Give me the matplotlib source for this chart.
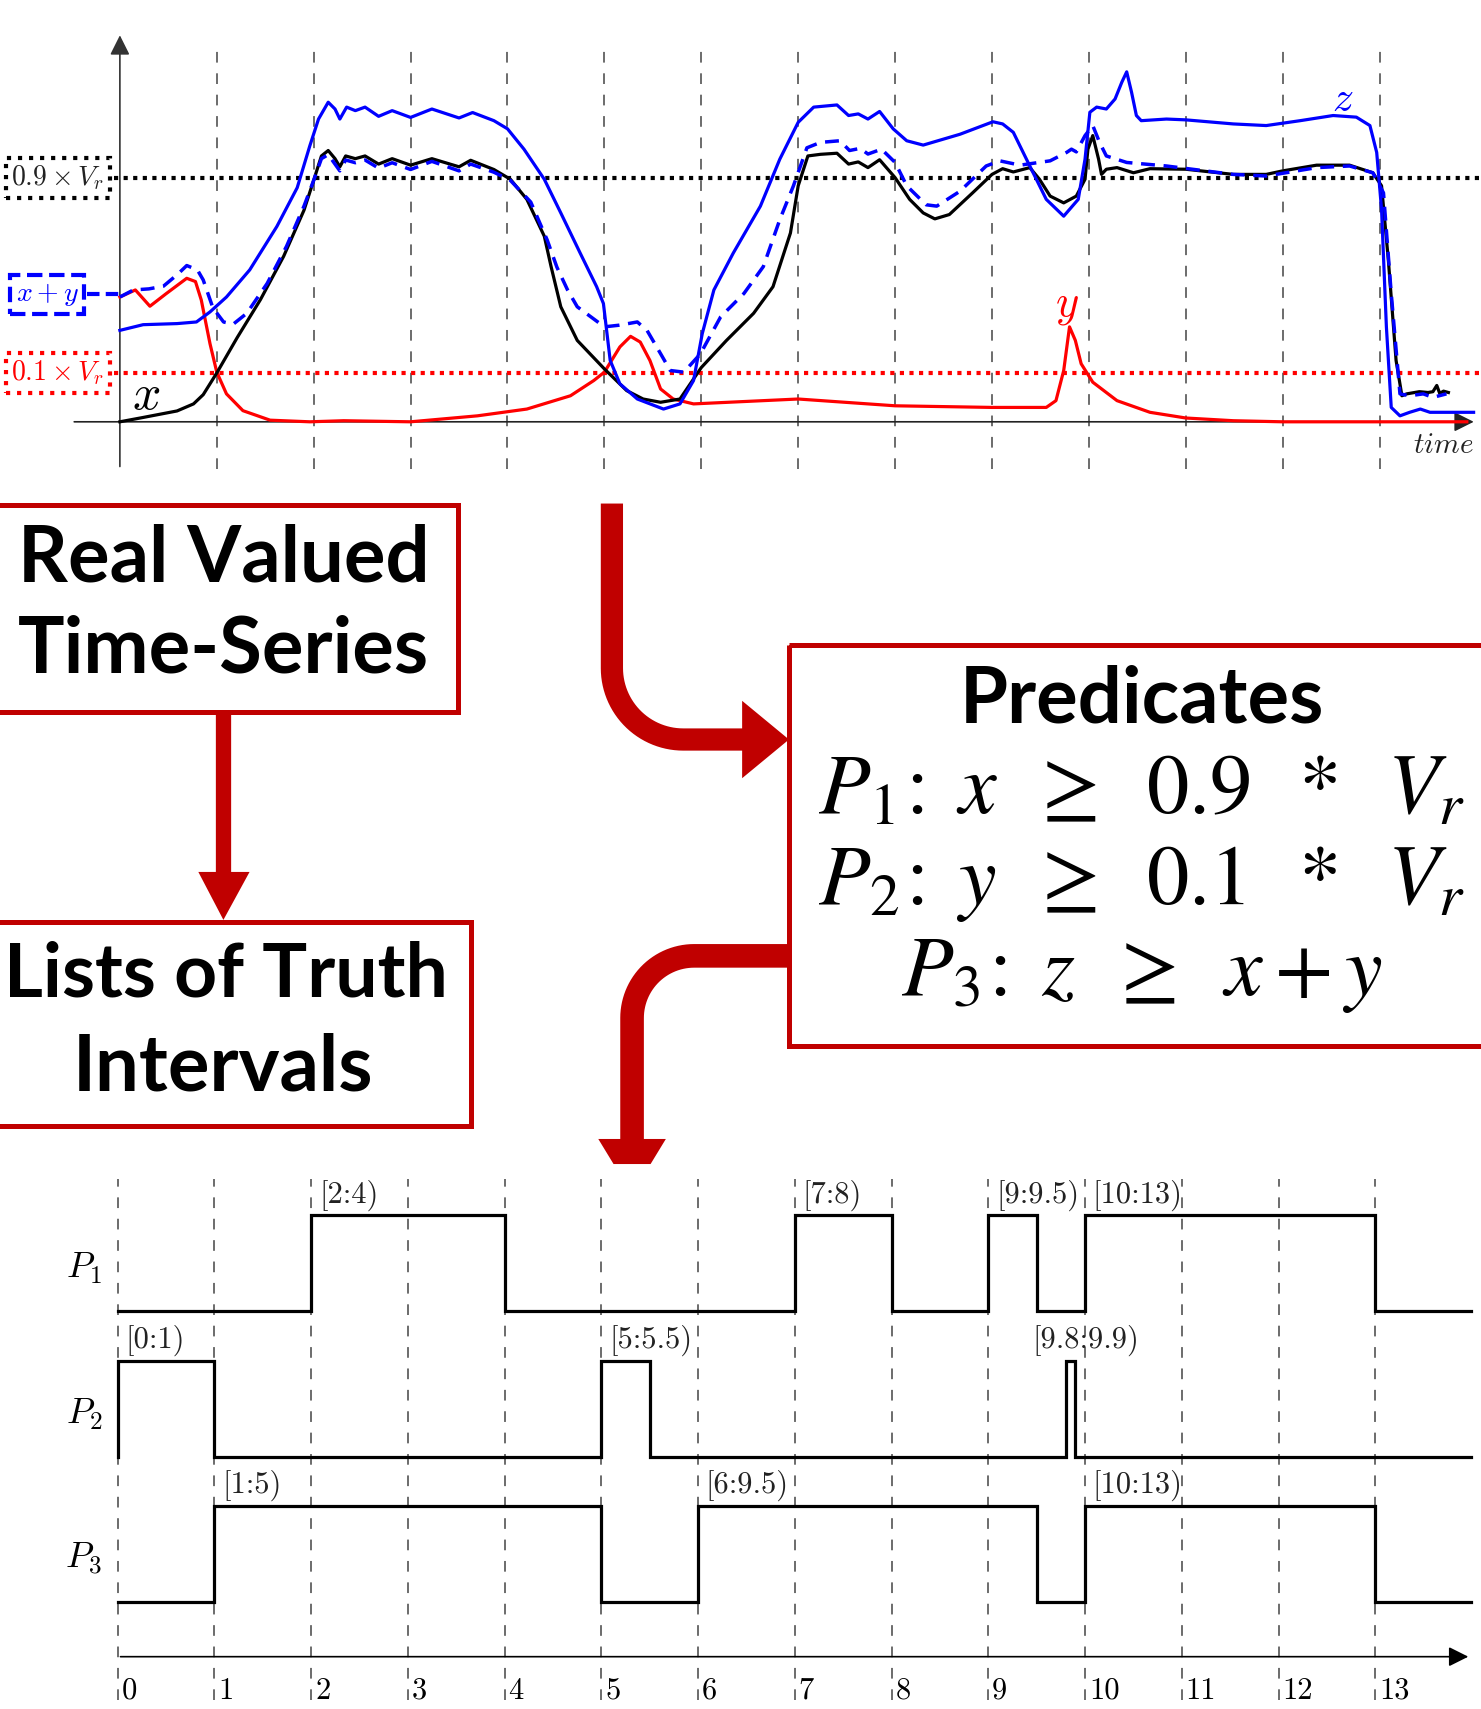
import numpy as np
import matplotlib.pyplot as plt
from matplotlib.patches import Rectangle, Polygon, PathPatch
from matplotlib.path import Path

plt.rcParams['mathtext.fontset'] = 'cm'

# ---- signals (time, value in units of V_r) ----
x_t = [0, 0.24, 0.59, 0.76, 0.86, 1.0, 1.21, 1.45, 1.69, 1.9,
       2.0, 2.08, 2.15, 2.22, 2.27, 2.33, 2.43, 2.53, 2.67, 2.81,
       3.0, 3.22, 3.5, 3.62, 3.86, 4.03, 4.2, 4.38, 4.45, 4.55,
       4.72, 5.0, 5.23, 5.4, 5.58, 5.78, 6.0, 6.26, 6.54, 6.74,
       6.92, 7.0, 7.1, 7.23, 7.4, 7.52, 7.62, 7.72, 7.84, 8.0,
       8.15, 8.29, 8.41, 8.56, 8.8, 9.0, 9.11, 9.22, 9.39, 9.49,
       9.6, 9.74, 9.87, 9.96, 9.99, 10.04, 10.1, 10.13, 10.18, 10.29,
       10.46, 10.63, 11.0, 11.49, 11.83, 12.0, 12.35, 12.69, 12.93, 13.02,
       13.09, 13.17, 13.23, 13.28, 13.41, 13.5, 13.55, 13.59, 13.62, 13.66,
       13.71]
x_v = [0, 0.016, 0.04, 0.066, 0.10, 0.18, 0.31, 0.45, 0.61, 0.78,
       0.89, 0.98, 1.0, 0.97, 0.94, 0.98, 0.97, 0.98, 0.95, 0.97,
       0.946, 0.97, 0.94, 0.964, 0.93, 0.894, 0.82, 0.684, 0.572, 0.424,
       0.30, 0.195, 0.115, 0.084, 0.072, 0.084, 0.2, 0.30, 0.40, 0.498,
       0.696, 0.87, 0.98, 0.986, 0.99, 0.95, 0.958, 0.937, 0.966, 0.9,
       0.82, 0.77, 0.748, 0.764, 0.844, 0.912, 0.933, 0.921, 0.937, 0.894,
       0.832, 0.807, 0.832, 0.894, 1.005, 1.055, 0.968, 0.912, 0.931, 0.937,
       0.918, 0.933, 0.931, 0.912, 0.912, 0.925, 0.946, 0.946, 0.918, 0.87,
       0.597, 0.226, 0.096, 0.103, 0.111, 0.108, 0.111, 0.134, 0.105, 0.113,
       0.108]

y_t = [0, 0.16, 0.31, 0.48, 0.69, 0.78, 0.84, 0.93, 1.0, 1.1,
       1.27, 1.55, 1.96, 2.31, 3.0, 3.69, 4.2, 4.65, 4.89, 5.0,
       5.16, 5.27, 5.37, 5.47, 5.58, 5.71, 5.92, 7.0, 8.0, 9.0,
       9.56, 9.66, 9.74, 9.8, 9.86, 9.92, 10.04, 10.29, 10.63, 11.0,
       11.49, 12.0, 13.9]
y_v = [0.46, 0.486, 0.426, 0.473, 0.529, 0.517, 0.449, 0.288, 0.183, 0.103,
       0.041, 0.006, 0, 0.004, 0, 0.022, 0.047, 0.096, 0.152, 0.183,
       0.276, 0.315, 0.294, 0.226, 0.121, 0.084, 0.066, 0.084, 0.059, 0.053,
       0.053, 0.078, 0.189, 0.35, 0.3, 0.214, 0.146, 0.078, 0.035, 0.014,
       0.004, 0, 0]

xy_t = [0, 0.14, 0.3, 0.45, 0.6, 0.69, 0.8, 0.86, 0.96, 1.07,
        1.17, 1.31, 1.52, 1.72, 1.9, 2.0, 2.08, 2.15, 2.22, 2.27,
        2.33, 2.43, 2.53, 2.67, 2.81, 3.0, 3.22, 3.5, 3.62, 3.86,
        4.03, 4.24, 4.41, 4.51, 4.62, 4.72, 5.0, 5.15, 5.34, 5.44,
        5.58, 5.68, 5.82, 5.99, 6.2, 6.44, 6.64, 6.81, 6.95, 7.09,
        7.23, 7.43, 7.53, 7.64, 7.72, 7.86, 8.0, 8.12, 8.32, 8.43,
        8.67, 8.94, 9.08, 9.29, 9.6, 9.77, 9.82, 9.87, 9.96, 10.04,
        10.11, 10.18, 10.39, 10.8, 11.49, 11.83, 12.35, 12.69, 12.93, 13.04,
        13.12, 13.21, 13.31, 13.45, 13.55, 13.69]
xy_v = [0.46, 0.486, 0.49, 0.5, 0.545, 0.576, 0.56, 0.523, 0.42, 0.368,
        0.36, 0.40, 0.51, 0.647, 0.795, 0.89, 0.97, 0.985, 0.95, 0.925,
        0.965, 0.955, 0.965, 0.935, 0.955, 0.93, 0.96, 0.925, 0.95, 0.92,
        0.89, 0.81, 0.67, 0.57, 0.486, 0.424, 0.35, 0.356, 0.368, 0.337,
        0.251, 0.189, 0.183, 0.25, 0.387, 0.473, 0.572, 0.745, 0.869, 1.01,
        1.03, 1.036, 1.0, 1.008, 0.987, 1.005, 0.956, 0.87, 0.80, 0.795,
        0.85, 0.943, 0.962, 0.946, 0.962, 0.993, 1.005, 0.995, 1.055, 1.092,
        1.03, 0.98, 0.956, 0.943, 0.912, 0.906, 0.937, 0.943, 0.918, 0.844,
        0.473, 0.103, 0.096, 0.103, 0.09, 0.103]

z_t = [0, 0.24, 0.59, 0.79, 0.93, 1.1, 1.34, 1.62, 1.83, 1.96,
       2.05, 2.15, 2.22, 2.27, 2.34, 2.43, 2.53, 2.67, 2.81, 3.0,
       3.22, 3.5, 3.64, 3.86, 4.0, 4.17, 4.38, 4.55, 4.75, 4.92,
       4.99, 5.06, 5.16, 5.34, 5.61, 5.78, 5.92, 6.01, 6.13, 6.33,
       6.61, 6.81, 7.0, 7.16, 7.4, 7.52, 7.62, 7.72, 7.84, 7.98,
       8.12, 8.29, 8.67, 9.01, 9.11, 9.22, 9.39, 9.56, 9.74, 9.89,
       9.96, 10.01, 10.08, 10.18, 10.27, 10.34, 10.39, 10.44, 10.49, 10.54,
       10.8, 11.0, 11.49, 11.83, 12.18, 12.52, 12.76, 12.9, 12.97, 13.02,
       13.07, 13.12, 13.21, 13.31, 13.42, 13.52, 13.69, 13.97]
z_v = [0.337, 0.358, 0.362, 0.368, 0.405, 0.46, 0.56, 0.72, 0.863, 1.017,
       1.116, 1.178, 1.153, 1.116, 1.16, 1.147, 1.16, 1.126, 1.147, 1.122,
       1.153, 1.12, 1.14, 1.11, 1.08, 1.005, 0.894, 0.77, 0.622, 0.498,
       0.436, 0.226, 0.14, 0.084, 0.047, 0.066, 0.152, 0.325, 0.486, 0.622,
       0.795, 0.968, 1.104, 1.16, 1.168, 1.129, 1.135, 1.116, 1.144, 1.08,
       1.036, 1.02, 1.06, 1.106, 1.098, 1.067, 0.943, 0.82, 0.758, 0.82,
       0.968, 1.141, 1.16, 1.153, 1.19, 1.252, 1.29, 1.215, 1.129, 1.11,
       1.116, 1.113, 1.098, 1.092, 1.11, 1.129, 1.123, 1.092, 0.993, 0.783,
       0.35, 0.053, 0.022, 0.035, 0.047, 0.035, 0.035, 0.035]

thr_hi = 0.9     # 0.9 x V_r line
thr_lo = 0.181   # 0.1 x V_r line (as drawn)
xy_start = 0.47

# ---- truth intervals ----
predicates = ['P_1', 'P_2', 'P_3']
p1_iv = [(2, 4), (7, 8), (9, 9.5), (10, 13)]
p2_iv = [(0, 1), (5, 5.5), (9.8, 9.9)]
p3_iv = [(1, 5), (6, 9.5), (10, 13)]
p1_lab = ['[2:4)', '[7:8)', '[9:9.5)', '[10:13)']
p2_lab = ['[0:1)', '[5:5.5)', '[9.8:9.9)']
p3_lab = ['[1:5)', '[6:9.5)', '[10:13)']
ticks = list(range(14))

W, H = 1359, 1568
RED = '#C00000'
fig = plt.figure(figsize=(14.81, 17.09), dpi=100)


def px_axes(y_top, y_bot, x0, xs, y0, ys):
    ax = fig.add_axes([0, 1 - y_bot / H, 1, (y_bot - y_top) / H])
    ax.set_xlim(-x0 / xs, (W - x0) / xs)
    ax.set_ylim((y0 - y_bot) / ys, (y0 - y_top) / ys)
    ax.axis('off')
    return ax


# ================= top: real valued signals =================
ax = px_axes(0, 445, 110, 88.92, 387, 248.9)
for k in range(1, 14):
    ax.plot([k, k], [-0.175, 1.39], color='#444444', lw=1.1, ls=(0, (7, 7)), zorder=1)
ax.annotate('', xy=(0, 1.435), xytext=(0, -0.175),
            arrowprops=dict(arrowstyle='-|>', color='#333333', lw=1.2, mutation_scale=30))
ax.annotate('', xy=(14.0, 0), xytext=(-0.5, 0),
            arrowprops=dict(arrowstyle='-|>', color='#222222', lw=1.2, mutation_scale=30))

ax.plot([-0.06, 14.2], [thr_hi, thr_hi], color='black', lw=3, ls=(0, (1, 1.3)), zorder=2)
ax.plot([-0.06, 14.2], [thr_lo, thr_lo], color='red', lw=3, ls=(0, (1, 1.3)), zorder=2)
ax.plot([-0.34, 0], [xy_start, xy_start], color='blue', lw=3, ls=(0, (3, 1.5)), zorder=2)

ax.plot(y_t, y_v, color='red', lw=2.3, zorder=3, solid_joinstyle='round')
ax.plot(x_t, x_v, color='black', lw=2.3, zorder=4, solid_joinstyle='round')
ax.plot(xy_t, xy_v, color='blue', lw=2.5, ls=(0, (4, 2.5)), zorder=5)
ax.plot(z_t, z_v, color='blue', lw=2.3, zorder=6, solid_joinstyle='round')

ax.text(-0.64, thr_hi, r'$0.9\times V_r$', fontsize=20, ha='center', va='center', color='#222222',
        bbox=dict(boxstyle='square,pad=0.2', fc='white', ec='black', ls=':', lw=3))
ax.text(-0.64, thr_lo, r'$0.1\times V_r$', fontsize=20, ha='center', va='center', color='red',
        bbox=dict(boxstyle='square,pad=0.2', fc='white', ec='red', ls=':', lw=3))
ax.text(-0.75, xy_start, r'$x+y$', fontsize=20, ha='center', va='center', color='blue',
        bbox=dict(boxstyle='square,pad=0.2', fc='white', ec='blue', ls='--', lw=3))
ax.text(0.27, 0.1, r'$x$', fontsize=36, ha='center', va='center', color='black')
ax.text(9.77, 0.43, r'$y$', fontsize=32, ha='center', va='center', color='red')
ax.text(12.62, 1.19, r'$z$', fontsize=30, ha='center', va='center', color='blue')
ax.text(13.66, -0.085, r'$time$', fontsize=21, ha='center', va='center', color='#222222')

# ================= middle: flow diagram =================
am = fig.add_axes([0, 0, 1, 1], zorder=-1)
am.set_xlim(0, W)
am.set_ylim(H, 0)
am.axis('off')

bw = 3.6
am.add_patch(Rectangle((-10, 463), 430, 190, fill=False, ec=RED, lw=bw))
am.add_patch(Rectangle((-10, 846), 442, 187, fill=False, ec=RED, lw=bw))
am.add_patch(Rectangle((724, 592), 660, 368, fill=False, ec=RED, lw=bw))

tkw = dict(fontfamily='Lato', fontweight='bold', fontsize=56, ha='center', va='center')
am.text(205, 513, 'Real Valued', **tkw)
am.text(205, 597, 'Time-Series', **tkw)
am.text(207, 895, 'Lists of Truth', **dict(tkw, fontsize=54))
am.text(205, 980, 'Intervals', **tkw)
am.text(1048, 643, 'Predicates', **tkw)

mkw = dict(fontsize=61, ha='center', va='center', math_fontfamily='stix')
am.text(1048, 724, r'$P_1\!:\;x\;\;\geq\;\;0.9\;\;*\;\;V_r$', **mkw)
am.text(1048, 810, r'$P_2\!:\;y\;\;\geq\;\;0.1\;\;*\;\;V_r$', **mkw)
am.text(1048, 893, r'$P_3\!:\;z\;\;\geq\;\;x+y$', **mkw)

# straight arrow box1 -> box2
am.plot([205, 205], [653, 802], color=RED, lw=11, solid_capstyle='butt')
am.add_patch(Polygon([(182, 800), (229, 800), (205, 844)], closed=True, color=RED, lw=0))

# bent arrow: chart -> predicates
a = np.linspace(np.pi, np.pi / 2, 30)
pts = [(561.5, 462), (561.5, 613)] + [(627 + 65.5 * np.cos(t), 613 + 65.5 * np.sin(t)) for t in a] + [(683, 678.5)]
am.add_patch(PathPatch(Path(pts), fill=False, ec=RED, lw=16, capstyle='butt', joinstyle='round'))
am.add_patch(Polygon([(681, 643), (681, 714), (724, 678.5)], closed=True, color=RED, lw=0))

# bent arrow: predicates -> truth intervals
b = np.linspace(np.pi / 2, np.pi, 30)
pts2 = [(724, 877), (637, 877)] + [(637 + 57 * np.cos(t), 934 - 57 * np.sin(t)) for t in b] + [(580, 1046)]
am.add_patch(PathPatch(Path(pts2), fill=False, ec=RED, lw=17, capstyle='butt', joinstyle='round'))
am.add_patch(Polygon([(549, 1045), (611, 1045), (597, 1068), (563, 1068)], closed=True, color=RED, lw=0))

# ================= bottom: truth intervals =================
ab = px_axes(1070, 1568, 108, 88.77, 1520, 88)
for k in ticks:
    ab.plot([k, k], [-0.45, 4.98], color='#444444', lw=1.1, ls=(0, (7, 7)), zorder=1)
    ab.text(k + 0.04, -0.36, str(k), fontsize=22, fontfamily='cmr10', ha='left', va='center')
ab.annotate('', xy=(13.99, 0), xytext=(0, 0),
            arrowprops=dict(arrowstyle='-|>', color='black', lw=1.2, mutation_scale=30))

bases = [3.6, 2.08, 0.57]
for name, ivs, labs, base in zip(predicates, [p1_iv, p2_iv, p3_iv], [p1_lab, p2_lab, p3_lab], bases):
    xs, ys = [0], [base]
    for (s, e) in ivs:
        xs += [s, s, e, e]
        ys += [base, base + 1, base + 1, base]
    xs.append(13.99)
    ys.append(base)
    ab.plot(xs, ys, color='black', lw=2.3, zorder=3, solid_joinstyle='miter')
    ab.text(-0.35, base + 0.45, r'$%s$' % name, fontsize=26, ha='center', va='center')
    for (s, e), lab in zip(ivs, labs):
        lx = s + 0.08 if e - s > 0.3 else s - 0.34
        ab.text(lx, base + 1.05, lab, fontsize=22, fontfamily='cmr10',
                ha='left', va='bottom', color='#222222')

fig.savefig('out.png', dpi=100)
